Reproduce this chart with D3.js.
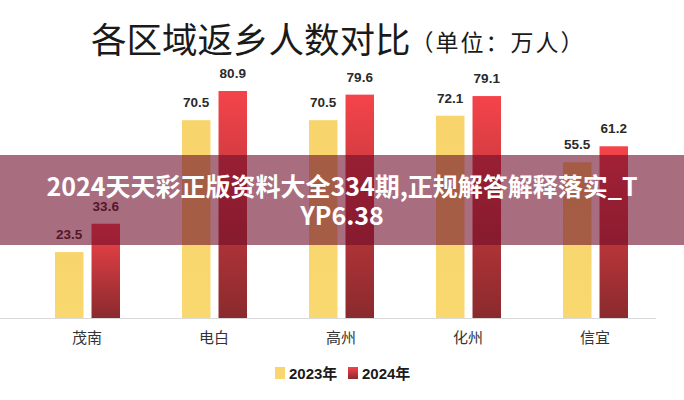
<!DOCTYPE html>
<html><head><meta charset="utf-8">
<script src="https://cdn.jsdelivr.net/npm/d3@7"></script>
<style>body{margin:0;background:#fff}svg{display:block}</style>
</head><body>
<script>
const categories = ["茂南", "电白", "高州", "化州", "信宜"];
const seriesNames = ["2023年", "2024年"];
const values2023 = [23.5, 70.5, 70.5, 72.1, 55.5];
const values2024 = [33.6, 80.9, 79.6, 79.1, 61.2];
const titleMain = "各区域返乡人数对比";
const titleUnit = "（单位：万人）";
const overlayLines = ["2024天天彩正版资料大全334期,正规解答解释落实_T", "YP6.38"];

const W = 684, H = 400;
const svg = d3.select("body").append("svg").attr("width", W).attr("height", H);
const defs = svg.append("defs");
const g1 = defs.append("linearGradient").attr("id", "redGrad").attr("x1", 0).attr("y1", 0).attr("x2", 0).attr("y2", 1);
g1.append("stop").attr("offset", "0%").attr("stop-color", "#F4444A");
g1.append("stop").attr("offset", "100%").attr("stop-color", "#8A2A2D");
const g2 = defs.append("linearGradient").attr("id", "yelGrad").attr("x1", 0).attr("y1", 0).attr("x2", 0).attr("y2", 1);
g2.append("stop").attr("offset", "0%").attr("stop-color", "#F8D46C");
g2.append("stop").attr("offset", "100%").attr("stop-color", "#F9D870");
const fills = ["url(#yelGrad)", "url(#redGrad)"];

const x = d3.scaleBand().domain(categories).range([23.5, 658.5]).padding(0);
const xs = d3.scaleBand().domain(seriesNames).range([31.5, 96.5]).paddingInner(0.22);
const y = d3.scaleLinear().domain([0, 80.9]).range([318, 91]);

// title
const t = svg.append("text").attr("y", 53).attr("x", 91)
  .style("font-family", "'Noto Sans CJK SC'").attr("fill", "#1a1a1a");
t.append("tspan").style("font-size", "35.5px").text(titleMain);
t.append("tspan").attr("dx", 0).style("font-size", "23px").style("letter-spacing", "2px").attr("dy", -2).text(titleUnit);

const data = categories.map((c, i) => ({c, vals: [values2023[i], values2024[i]]}));
const grp = svg.append("g").selectAll("g").data(data).join("g")
  .attr("transform", d => `translate(${x(d.c)},0)`);
grp.selectAll("rect").data(d => d.vals.map((v, j) => ({v, s: seriesNames[j], j}))).join("rect")
  .attr("x", d => xs(d.s)).attr("width", xs.bandwidth())
  .attr("y", d => y(d.v)).attr("height", d => y(0) - y(d.v))
  .attr("fill", d => fills[d.j]);
grp.selectAll("text.val").data(d => d.vals.map((v, j) => ({v, s: seriesNames[j]}))).join("text")
  .attr("class", "val")
  .attr("x", d => xs(d.s) + xs.bandwidth() / 2).attr("y", d => y(d.v) - 13)
  .attr("text-anchor", "middle")
  .style("font-family", "'Liberation Sans', Arial").style("font-weight", "bold").style("font-size", "13.5px")
  .attr("fill", "#2a2a2a").text(d => d.v.toFixed(1));

// axis
const ax = svg.append("g").attr("transform", "translate(0,318)")
  .call(d3.axisBottom(x).tickSize(0).tickPadding(14));
ax.select(".domain").attr("stroke", "#d9d9d9").attr("d", "M-1.5,0.5H656");
ax.selectAll("text").style("font-family", "'Noto Sans CJK SC'").style("font-size", "15px").attr("fill", "#333");

// legend
const leg = svg.append("g").attr("transform", "translate(275,367)");
const legX = [0, 73];
seriesNames.forEach((s, i) => {
  leg.append("rect").attr("x", legX[i]).attr("y", 0).attr("width", 10).attr("height", 12).attr("fill", fills[i]);
  leg.append("text").attr("x", legX[i] + 14).attr("y", 11.5)
    .style("font-family", "'Liberation Sans', 'Noto Sans CJK SC'").style("font-weight", "bold").style("font-size", "15px")
    .attr("fill", "#1a1a1a").text(s);
});

// overlay band
svg.append("rect").attr("x", 0).attr("y", 155).attr("width", W).attr("height", 90)
  .attr("fill", "rgb(110,12,42)").attr("fill-opacity", 0.6);
overlayLines.forEach((l, i) => {
  svg.append("text").attr("x", W / 2).attr("y", 196 + i * 29).attr("text-anchor", "middle")
    .style("font-family", "'Noto Sans CJK SC'").style("font-weight", "bold").style("font-size", "25px")
    .attr("fill", "#fff").text(l);
});
</script>
</body></html>
